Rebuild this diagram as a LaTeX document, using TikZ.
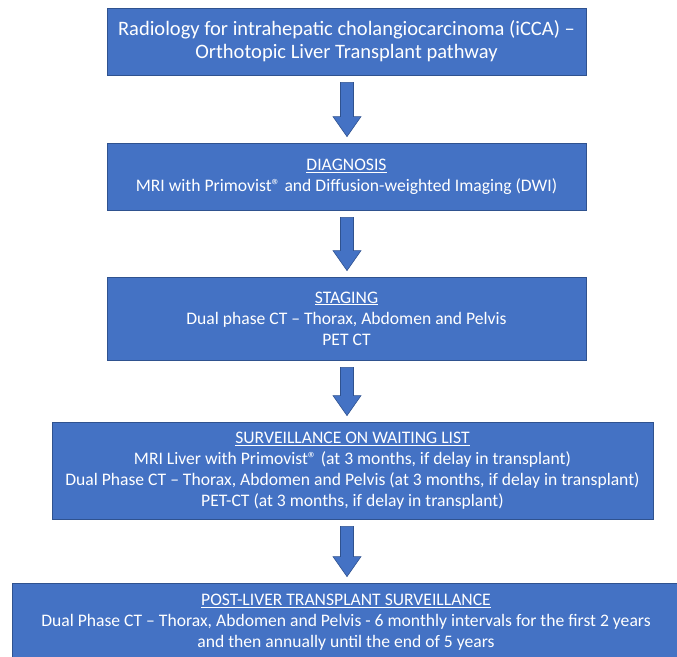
\documentclass[tikz,border=0pt]{standalone}
\usepackage{fontspec}
\setmainfont{Carlito}
\usetikzlibrary{calc}
\definecolor{boxblue}{HTML}{4472C4}
\definecolor{boxedge}{HTML}{2F528F}
\begin{document}
\begin{tikzpicture}[x=1pt,y=-1pt,
  box/.style={draw=boxedge, line width=0.8pt, fill=boxblue, text=white, align=center,
    inner sep=0pt, font=\fontsize{17.6}{21}\selectfont},
  titlebox/.style={box, font=\fontsize{20.5}{23}\selectfont},
  barrow/.style={draw=boxedge, line width=0.6pt, fill=boxblue}]
\useasboundingbox (0,0) rectangle (677,656);
\clip (0,0) rectangle (677,656);

\node[titlebox, minimum width=479pt, minimum height=67pt] (b1) at (346.5,41.5)
  {Radiology for intrahepatic cholangiocarcinoma (iCCA) –\\Orthotopic Liver Transplant pathway};
\node[box, minimum width=479pt, minimum height=67pt] (b2) at (346.5,176.5)
  {\underline{DIAGNOSIS}\\MRI with Primovist® and Diffusion-weighted Imaging (DWI)};
\node[box, minimum width=479pt, minimum height=83pt] (b3) at (346.5,318.5)
  {\underline{STAGING}\\Dual phase CT – Thorax, Abdomen and Pelvis\\PET CT};
\node[box, minimum width=601pt, minimum height=97pt] (b4) at (352.5,470.5)
  {\underline{SURVEILLANCE ON WAITING LIST}\\MRI Liver with Primovist® (at 3 months, if delay in transplant)\\Dual Phase CT – Thorax, Abdomen and Pelvis (at 3 months, if delay in transplant)\\PET-CT (at 3 months, if delay in transplant)};
\node[box, minimum width=668pt, minimum height=78pt] (b5) at (346,622)
  {\underline{POST-LIVER TRANSPLANT SURVEILLANCE}\\Dual Phase CT – Thorax, Abdomen and Pelvis - 6 monthly intervals for the first 2 years\\and then annually until the end of 5 years};

\coordinate (ax) at (347,0);
\foreach \a/\b in {b1/b2,b2/b3,b3/b4,b4/b5}{
  \draw[barrow] let \p1=($(\a.south -| ax)+(0,7)$), \p2=($(\b.north -| ax)+(0,-6)$) in
    (\x1-6.5pt,\y1) -- (\x1+6.5pt,\y1) -- (\x1+6.5pt,\y2+20pt) -- (\x1+14pt,\y2+20pt)
    -- (\x1,\y2) -- (\x1-14pt,\y2+20pt) -- (\x1-6.5pt,\y2+20pt) -- cycle;
}
\end{tikzpicture}
\end{document}
